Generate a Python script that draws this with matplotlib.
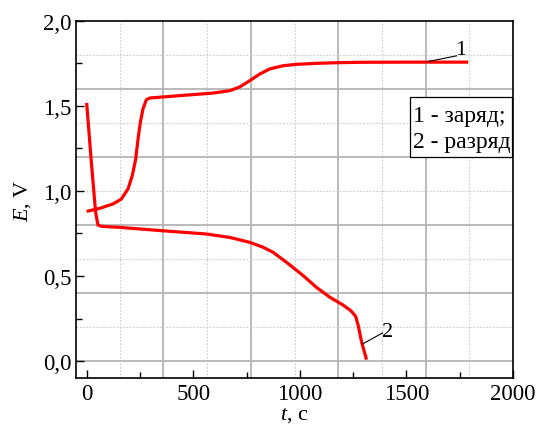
import numpy as np
import matplotlib
matplotlib.use("Agg")
import matplotlib.pyplot as plt
from matplotlib.patches import Rectangle

plt.rcParams['font.family'] = ['Liberation Serif', 'DejaVu Serif']
plt.rcParams['mathtext.fontset'] = 'custom'
plt.rcParams['mathtext.rm'] = 'Liberation Serif'
plt.rcParams['mathtext.it'] = 'Liberation Serif:italic'

# ===== data =====
# 1 - заряд (charge)
t_charge = [0, 61, 124, 163, 194, 214, 230, 241, 252, 264, 280, 296, 437, 593, 671, 718, 765,
            812, 859, 922, 984, 1078, 1188, 1282, 1500, 1790]
e_charge = [0.880, 0.898, 0.924, 0.953, 1.012, 1.090, 1.188, 1.306, 1.404, 1.482, 1.537, 1.547,
            1.561, 1.576, 1.590, 1.612, 1.649, 1.688, 1.718, 1.737, 1.745, 1.751, 1.755, 1.757,
            1.758, 1.758]
# 2 - разряд (discharge)
t_dis = [0, 22, 42, 53, 70, 155, 358, 562, 671, 765, 828, 875, 938, 1016, 1078, 1141, 1203,
         1240, 1262, 1274, 1290, 1313]
e_dis = [1.518, 1.169, 0.875, 0.800, 0.792, 0.786, 0.766, 0.747, 0.727, 0.698, 0.669, 0.639,
         0.580, 0.502, 0.433, 0.375, 0.329, 0.295, 0.262, 0.208, 0.110, 0.008]

legend_lines = ["1 - заряд;", "2 - разряд"]

fig = plt.figure(figsize=(5.36, 4.27), dpi=100)
ax = fig.add_axes([0.1418, 0.1124, 0.8153, 0.8361])

ax.set_xlim(-50, 2000)
ax.set_ylim(-0.1, 2.0)

# background grid (offset from the ticks as in the original)
for k in range(1, 10):
    x = -50 + 205 * k
    if k % 2 == 0:
        ax.axvline(x, color='#b4b4b4', lw=1.3, zorder=0)
    else:
        ax.axvline(x, color='#cccccc', lw=0.8, ls=(0, (1.5, 1.5)), zorder=0)
for k in range(0, 10):
    y = 0.2 * k
    if k % 2 == 0:
        ax.axhline(y, color='#b4b4b4', lw=1.3, zorder=0)
    else:
        ax.axhline(y, color='#cccccc', lw=0.8, ls=(0, (1.5, 1.5)), zorder=0)

ax.plot(t_charge, e_charge, color='#ff0000', lw=2.3, solid_capstyle='butt',
        solid_joinstyle='round', zorder=3)
ax.plot(t_dis, e_dis, color='#ff0000', lw=2.3, solid_capstyle='butt',
        solid_joinstyle='round', zorder=3)

# curve labels with leader lines
ax.plot([1603, 1735], [1.762, 1.795], color='black', lw=0.8, zorder=4)
ax.text(1730, 1.775, "1", fontsize=16, ha='left', va='bottom')
ax.plot([1294, 1388], [0.10, 0.165], color='black', lw=0.8, zorder=4)
ax.text(1386, 0.172, "2", fontsize=16, ha='left', va='center')

# legend box
ax.add_patch(Rectangle((0.764, 0.619), 0.234, 0.168, transform=ax.transAxes,
                       fc='white', ec='black', lw=0.9, zorder=5))
ax.text(0.771, 0.721, legend_lines[0], transform=ax.transAxes, fontsize=17,
        ha='left', va='baseline', zorder=6)
ax.text(0.771, 0.647, legend_lines[1], transform=ax.transAxes, fontsize=17,
        ha='left', va='baseline', zorder=6)

ax.set_xticks([0, 500, 1000, 1500, 2000])
ax.set_xticks([250, 750, 1250, 1750], minor=True)
ax.set_yticks([0.0, 0.5, 1.0, 1.5, 2.0])
ax.set_yticks([0.25, 0.75, 1.25, 1.75], minor=True)
ax.set_yticklabels(["0,0", "0,5", "1,0", "1,5", "2,0"])
ax.tick_params(which='both', direction='in', top=False, right=False, labelsize=16.5)
ax.tick_params(which='major', length=6, width=1.0)
ax.tick_params(which='minor', length=4, width=1.0)
for s in ax.spines.values():
    s.set_linewidth(1.2)

ax.set_xlabel(r"$t$, c", fontsize=16, labelpad=1)
ax.set_ylabel(r"$E$, V", fontsize=16, labelpad=7)

fig.savefig("out.png", dpi=100)
